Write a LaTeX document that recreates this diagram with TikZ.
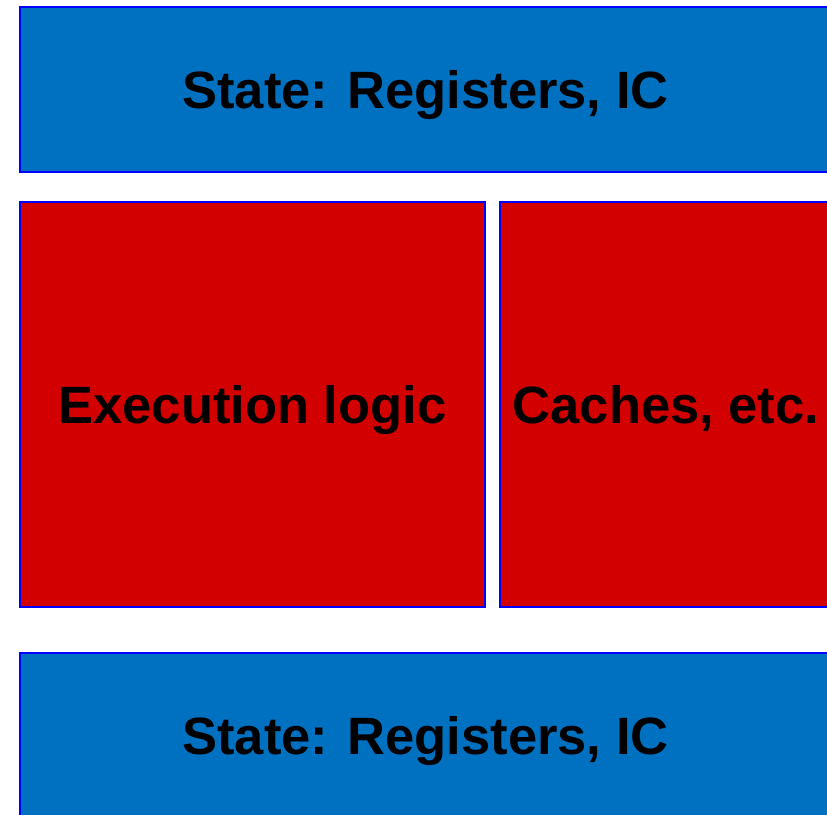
\documentclass[tikz,border=0pt]{standalone}
\usepackage{fontspec}
\setmainfont{Liberation Sans}
\definecolor{stateblue}{HTML}{0070C0}
\definecolor{logicred}{HTML}{D20000}
\definecolor{edgeblue}{HTML}{0000FF}
\tikzset{
  block/.style={draw=edgeblue, line width=2pt, inner sep=0pt, anchor=north west,
    font=\fontsize{52.5}{60}\selectfont\bfseries, text=black,
    text height=37.5pt, text depth=0pt},
  stateblock/.style={block, fill=stateblue},
  logicblock/.style={block, fill=logicred}
}
\begin{document}
\begin{tikzpicture}[x=1pt,y=-1pt]
\useasboundingbox (0,0) rectangle (827,814);
\clip (0,0) rectangle (827,814);
\node[stateblock, minimum width=811pt, minimum height=165pt] (top) at (19,6) {State: Registers, IC};
\node[logicblock, minimum width=465pt, minimum height=405pt] (exec) at (19,201) {Execution logic};
\node[logicblock, minimum width=332pt, minimum height=405pt] (cache) at (499,201) {Caches, etc.};
\node[stateblock, minimum width=811pt, minimum height=165pt] (bottom) at (19,652) {State: Registers, IC};
\end{tikzpicture}
\end{document}
